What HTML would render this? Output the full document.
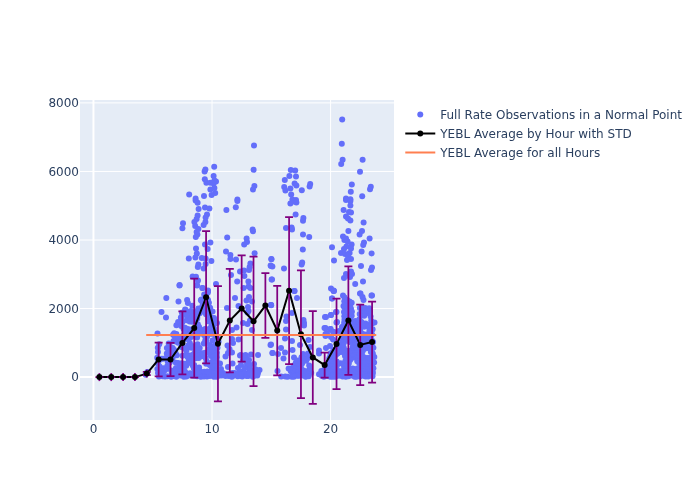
<!DOCTYPE html>
<html><head><meta charset="utf-8"><title>YEBL</title>
<style>
html,body{margin:0;padding:0;background:#fff;}
body{width:700px;height:500px;overflow:hidden;}
svg{display:block;}
text{font-family:"DejaVu Sans","Liberation Sans",sans-serif;font-size:12px;fill:#2a3f5f;}
</style></head><body>
<svg width="700" height="500" viewBox="0 0 700 500">
<rect x="0" y="0" width="700" height="500" fill="#fff"/>
<rect x="80" y="100" width="314" height="320" fill="#e5ecf6"/>
<clipPath id="c"><rect x="80" y="100" width="314" height="320"/></clipPath>

<g stroke="#fff" stroke-width="1" shape-rendering="auto">
<line x1="212.02" x2="212.02" y1="100" y2="420"/>
<line x1="330.59" x2="330.59" y1="100" y2="420"/>
<line x1="80" x2="394" y1="308.55" y2="308.55"/>
<line x1="80" x2="394" y1="240.00" y2="240.00"/>
<line x1="80" x2="394" y1="171.45" y2="171.45"/>
<line x1="80" x2="394" y1="102.90" y2="102.90"/>
</g>
<g stroke="#fff" stroke-width="2">
<line x1="93.45" x2="93.45" y1="100" y2="420"/>
<line x1="80" x2="394" y1="377.10" y2="377.10"/>
</g>
<g clip-path="url(#c)">
<g fill="#636efa">
<circle cx="254.0" cy="145.4" r="3"/>
<circle cx="253.6" cy="169.8" r="3"/>
<circle cx="254.4" cy="186.0" r="3"/>
<circle cx="253.0" cy="189.6" r="3"/>
<circle cx="214.2" cy="166.8" r="3"/>
<circle cx="205.4" cy="169.4" r="3"/>
<circle cx="204.6" cy="171.6" r="3"/>
<circle cx="213.6" cy="176.0" r="3"/>
<circle cx="204.8" cy="179.2" r="3"/>
<circle cx="214.4" cy="180.4" r="3"/>
<circle cx="216.0" cy="181.6" r="3"/>
<circle cx="206.4" cy="182.8" r="3"/>
<circle cx="210.4" cy="182.8" r="3"/>
<circle cx="213.6" cy="183.6" r="3"/>
<circle cx="214.4" cy="188.0" r="3"/>
<circle cx="210.4" cy="189.4" r="3"/>
<circle cx="215.2" cy="193.0" r="3"/>
<circle cx="211.6" cy="195.0" r="3"/>
<circle cx="204.0" cy="196.0" r="3"/>
<circle cx="189.2" cy="194.4" r="3"/>
<circle cx="195.6" cy="198.4" r="3"/>
<circle cx="237.4" cy="199.4" r="3"/>
<circle cx="342.2" cy="119.6" r="3"/>
<circle cx="341.8" cy="143.8" r="3"/>
<circle cx="342.6" cy="159.8" r="3"/>
<circle cx="341.2" cy="164.0" r="3"/>
<circle cx="362.6" cy="159.8" r="3"/>
<circle cx="360.0" cy="171.8" r="3"/>
<circle cx="351.8" cy="184.6" r="3"/>
<circle cx="370.8" cy="186.8" r="3"/>
<circle cx="370.0" cy="189.2" r="3"/>
<circle cx="350.8" cy="191.8" r="3"/>
<circle cx="362.2" cy="196.2" r="3"/>
<circle cx="346.0" cy="198.4" r="3"/>
<circle cx="350.4" cy="199.2" r="3"/>
<circle cx="290.8" cy="170.0" r="3"/>
<circle cx="295.2" cy="170.4" r="3"/>
<circle cx="289.4" cy="176.0" r="3"/>
<circle cx="296.0" cy="176.4" r="3"/>
<circle cx="284.8" cy="180.0" r="3"/>
<circle cx="294.6" cy="183.4" r="3"/>
<circle cx="296.4" cy="185.6" r="3"/>
<circle cx="310.2" cy="184.0" r="3"/>
<circle cx="309.6" cy="186.6" r="3"/>
<circle cx="284.2" cy="187.0" r="3"/>
<circle cx="290.4" cy="188.6" r="3"/>
<circle cx="285.4" cy="190.6" r="3"/>
<circle cx="301.8" cy="190.2" r="3"/>
<circle cx="291.2" cy="194.4" r="3"/>
<circle cx="292.4" cy="199.4" r="3"/>
<circle cx="296.0" cy="200.0" r="3"/>
<circle cx="195.6" cy="200.6" r="3"/>
<circle cx="197.6" cy="202.8" r="3"/>
<circle cx="237.4" cy="201.0" r="3"/>
<circle cx="235.8" cy="207.2" r="3"/>
<circle cx="226.4" cy="210.0" r="3"/>
<circle cx="198.6" cy="209.0" r="3"/>
<circle cx="205.0" cy="207.4" r="3"/>
<circle cx="209.4" cy="208.4" r="3"/>
<circle cx="207.0" cy="214.4" r="3"/>
<circle cx="197.6" cy="215.6" r="3"/>
<circle cx="205.6" cy="217.6" r="3"/>
<circle cx="196.6" cy="219.0" r="3"/>
<circle cx="194.4" cy="222.0" r="3"/>
<circle cx="205.4" cy="222.0" r="3"/>
<circle cx="183.0" cy="223.2" r="3"/>
<circle cx="203.6" cy="225.0" r="3"/>
<circle cx="195.2" cy="226.0" r="3"/>
<circle cx="182.4" cy="228.2" r="3"/>
<circle cx="198.4" cy="229.0" r="3"/>
<circle cx="252.6" cy="229.6" r="3"/>
<circle cx="253.0" cy="231.2" r="3"/>
<circle cx="196.6" cy="232.0" r="3"/>
<circle cx="197.4" cy="234.4" r="3"/>
<circle cx="195.8" cy="237.0" r="3"/>
<circle cx="227.2" cy="237.4" r="3"/>
<circle cx="246.6" cy="238.4" r="3"/>
<circle cx="247.0" cy="242.0" r="3"/>
<circle cx="244.2" cy="244.4" r="3"/>
<circle cx="210.4" cy="242.4" r="3"/>
<circle cx="205.0" cy="244.4" r="3"/>
<circle cx="196.0" cy="248.6" r="3"/>
<circle cx="207.6" cy="249.0" r="3"/>
<circle cx="226.0" cy="251.4" r="3"/>
<circle cx="254.6" cy="253.2" r="3"/>
<circle cx="196.8" cy="253.6" r="3"/>
<circle cx="230.4" cy="255.0" r="3"/>
<circle cx="195.4" cy="257.4" r="3"/>
<circle cx="188.8" cy="258.4" r="3"/>
<circle cx="201.8" cy="258.0" r="3"/>
<circle cx="205.6" cy="258.4" r="3"/>
<circle cx="230.4" cy="259.0" r="3"/>
<circle cx="236.0" cy="259.6" r="3"/>
<circle cx="211.4" cy="261.0" r="3"/>
<circle cx="271.4" cy="259.2" r="3"/>
<circle cx="198.4" cy="264.6" r="3"/>
<circle cx="205.6" cy="264.0" r="3"/>
<circle cx="250.4" cy="263.6" r="3"/>
<circle cx="197.8" cy="267.0" r="3"/>
<circle cx="203.6" cy="268.4" r="3"/>
<circle cx="271.0" cy="266.0" r="3"/>
<circle cx="249.6" cy="267.0" r="3"/>
<circle cx="249.0" cy="270.0" r="3"/>
<circle cx="244.0" cy="270.4" r="3"/>
<circle cx="240.0" cy="271.6" r="3"/>
<circle cx="231.0" cy="275.0" r="3"/>
<circle cx="244.4" cy="276.0" r="3"/>
<circle cx="192.6" cy="276.4" r="3"/>
<circle cx="196.0" cy="276.8" r="3"/>
<circle cx="272.0" cy="279.6" r="3"/>
<circle cx="198.0" cy="280.6" r="3"/>
<circle cx="237.2" cy="281.4" r="3"/>
<circle cx="248.4" cy="281.6" r="3"/>
<circle cx="179.6" cy="285.0" r="3"/>
<circle cx="197.0" cy="285.0" r="3"/>
<circle cx="216.0" cy="284.0" r="3"/>
<circle cx="248.6" cy="286.4" r="3"/>
<circle cx="243.6" cy="288.0" r="3"/>
<circle cx="250.4" cy="288.0" r="3"/>
<circle cx="202.4" cy="288.0" r="3"/>
<circle cx="207.6" cy="291.0" r="3"/>
<circle cx="290.4" cy="203.6" r="3"/>
<circle cx="293.6" cy="201.6" r="3"/>
<circle cx="296.4" cy="202.4" r="3"/>
<circle cx="295.6" cy="214.4" r="3"/>
<circle cx="303.4" cy="218.0" r="3"/>
<circle cx="303.0" cy="220.8" r="3"/>
<circle cx="286.0" cy="228.0" r="3"/>
<circle cx="291.6" cy="227.6" r="3"/>
<circle cx="292.0" cy="229.6" r="3"/>
<circle cx="303.0" cy="234.4" r="3"/>
<circle cx="309.2" cy="237.0" r="3"/>
<circle cx="302.8" cy="249.4" r="3"/>
<circle cx="302.2" cy="262.4" r="3"/>
<circle cx="301.6" cy="264.4" r="3"/>
<circle cx="271.4" cy="259.0" r="3"/>
<circle cx="270.6" cy="265.6" r="3"/>
<circle cx="272.4" cy="266.4" r="3"/>
<circle cx="284.0" cy="268.6" r="3"/>
<circle cx="271.6" cy="279.6" r="3"/>
<circle cx="294.4" cy="291.0" r="3"/>
<circle cx="346.0" cy="200.0" r="3"/>
<circle cx="350.4" cy="201.0" r="3"/>
<circle cx="350.4" cy="205.6" r="3"/>
<circle cx="343.6" cy="210.0" r="3"/>
<circle cx="349.0" cy="212.0" r="3"/>
<circle cx="351.0" cy="212.4" r="3"/>
<circle cx="346.0" cy="216.6" r="3"/>
<circle cx="348.0" cy="218.4" r="3"/>
<circle cx="350.4" cy="220.4" r="3"/>
<circle cx="363.6" cy="222.6" r="3"/>
<circle cx="348.4" cy="231.0" r="3"/>
<circle cx="362.0" cy="231.0" r="3"/>
<circle cx="359.6" cy="234.4" r="3"/>
<circle cx="343.0" cy="236.4" r="3"/>
<circle cx="346.0" cy="238.4" r="3"/>
<circle cx="369.6" cy="238.6" r="3"/>
<circle cx="344.4" cy="240.0" r="3"/>
<circle cx="347.6" cy="241.6" r="3"/>
<circle cx="364.0" cy="242.6" r="3"/>
<circle cx="351.6" cy="244.4" r="3"/>
<circle cx="363.2" cy="245.0" r="3"/>
<circle cx="332.0" cy="247.2" r="3"/>
<circle cx="346.4" cy="246.4" r="3"/>
<circle cx="344.0" cy="249.0" r="3"/>
<circle cx="351.0" cy="248.6" r="3"/>
<circle cx="361.6" cy="251.6" r="3"/>
<circle cx="341.0" cy="253.0" r="3"/>
<circle cx="345.0" cy="254.0" r="3"/>
<circle cx="349.6" cy="253.0" r="3"/>
<circle cx="371.6" cy="253.4" r="3"/>
<circle cx="348.0" cy="256.0" r="3"/>
<circle cx="351.0" cy="259.0" r="3"/>
<circle cx="347.0" cy="260.0" r="3"/>
<circle cx="334.0" cy="260.4" r="3"/>
<circle cx="361.0" cy="266.0" r="3"/>
<circle cx="372.0" cy="267.6" r="3"/>
<circle cx="371.0" cy="270.0" r="3"/>
<circle cx="351.0" cy="271.6" r="3"/>
<circle cx="346.0" cy="274.0" r="3"/>
<circle cx="352.0" cy="274.0" r="3"/>
<circle cx="350.0" cy="277.0" r="3"/>
<circle cx="344.0" cy="278.0" r="3"/>
<circle cx="363.0" cy="281.4" r="3"/>
<circle cx="355.2" cy="284.0" r="3"/>
<circle cx="331.0" cy="288.4" r="3"/>
<circle cx="333.6" cy="290.4" r="3"/>
<circle cx="360.0" cy="293.6" r="3"/>
<circle cx="372.0" cy="295.6" r="3"/>
<circle cx="343.0" cy="295.6" r="3"/>
<circle cx="235.0" cy="298.0" r="3"/>
<circle cx="246.5" cy="300.5" r="3"/>
<circle cx="252.0" cy="301.5" r="3"/>
<circle cx="249.0" cy="297.0" r="3"/>
<circle cx="227.0" cy="308.0" r="3"/>
<circle cx="238.5" cy="306.0" r="3"/>
<circle cx="248.0" cy="307.0" r="3"/>
<circle cx="248.5" cy="311.0" r="3"/>
<circle cx="247.5" cy="312.5" r="3"/>
<circle cx="212.5" cy="311.5" r="3"/>
<circle cx="214.0" cy="318.0" r="3"/>
<circle cx="214.5" cy="320.5" r="3"/>
<circle cx="217.0" cy="323.0" r="3"/>
<circle cx="243.0" cy="323.0" r="3"/>
<circle cx="247.5" cy="324.0" r="3"/>
<circle cx="250.0" cy="320.5" r="3"/>
<circle cx="236.5" cy="327.5" r="3"/>
<circle cx="232.0" cy="330.0" r="3"/>
<circle cx="252.0" cy="330.0" r="3"/>
<circle cx="271.0" cy="305.0" r="3"/>
<circle cx="210.0" cy="329.0" r="3"/>
<circle cx="209.0" cy="331.0" r="3"/>
<circle cx="208.0" cy="300.0" r="3"/>
<circle cx="212.5" cy="340.5" r="3"/>
<circle cx="210.0" cy="345.0" r="3"/>
<circle cx="209.0" cy="349.0" r="3"/>
<circle cx="212.5" cy="352.0" r="3"/>
<circle cx="214.0" cy="348.0" r="3"/>
<circle cx="211.0" cy="356.0" r="3"/>
<circle cx="213.5" cy="360.0" r="3"/>
<circle cx="210.0" cy="365.0" r="3"/>
<circle cx="214.0" cy="365.0" r="3"/>
<circle cx="212.0" cy="369.0" r="3"/>
<circle cx="209.0" cy="372.0" r="3"/>
<circle cx="213.0" cy="374.0" r="3"/>
<circle cx="216.0" cy="372.0" r="3"/>
<circle cx="220.0" cy="363.5" r="3"/>
<circle cx="221.0" cy="369.0" r="3"/>
<circle cx="228.0" cy="367.0" r="3"/>
<circle cx="232.5" cy="363.5" r="3"/>
<circle cx="225.5" cy="356.5" r="3"/>
<circle cx="228.0" cy="353.0" r="3"/>
<circle cx="232.0" cy="352.5" r="3"/>
<circle cx="227.5" cy="345.5" r="3"/>
<circle cx="233.0" cy="343.0" r="3"/>
<circle cx="232.0" cy="339.0" r="3"/>
<circle cx="229.5" cy="349.0" r="3"/>
<circle cx="223.0" cy="373.0" r="3"/>
<circle cx="219.0" cy="375.0" r="3"/>
<circle cx="230.0" cy="375.0" r="3"/>
<circle cx="234.5" cy="373.0" r="3"/>
<circle cx="238.5" cy="339.5" r="3"/>
<circle cx="240.0" cy="355.5" r="3"/>
<circle cx="245.5" cy="355.0" r="3"/>
<circle cx="251.0" cy="354.5" r="3"/>
<circle cx="258.0" cy="355.0" r="3"/>
<circle cx="249.0" cy="360.0" r="3"/>
<circle cx="238.0" cy="368.0" r="3"/>
<circle cx="239.5" cy="372.0" r="3"/>
<circle cx="243.0" cy="374.0" r="3"/>
<circle cx="247.0" cy="364.0" r="3"/>
<circle cx="250.0" cy="365.0" r="3"/>
<circle cx="254.0" cy="364.0" r="3"/>
<circle cx="249.0" cy="369.0" r="3"/>
<circle cx="255.0" cy="369.0" r="3"/>
<circle cx="259.5" cy="370.0" r="3"/>
<circle cx="252.0" cy="373.0" r="3"/>
<circle cx="258.0" cy="373.0" r="3"/>
<circle cx="270.5" cy="345.0" r="3"/>
<circle cx="272.5" cy="353.0" r="3"/>
<circle cx="277.5" cy="371.0" r="3"/>
<circle cx="271.0" cy="344.5" r="3"/>
<circle cx="272.5" cy="353.0" r="3"/>
<circle cx="278.0" cy="354.0" r="3"/>
<circle cx="281.0" cy="348.0" r="3"/>
<circle cx="285.0" cy="338.5" r="3"/>
<circle cx="292.0" cy="341.0" r="3"/>
<circle cx="285.0" cy="352.5" r="3"/>
<circle cx="292.5" cy="350.0" r="3"/>
<circle cx="283.5" cy="358.5" r="3"/>
<circle cx="294.0" cy="357.5" r="3"/>
<circle cx="300.0" cy="345.0" r="3"/>
<circle cx="308.5" cy="340.0" r="3"/>
<circle cx="310.0" cy="347.0" r="3"/>
<circle cx="303.0" cy="354.0" r="3"/>
<circle cx="308.0" cy="353.5" r="3"/>
<circle cx="319.0" cy="350.5" r="3"/>
<circle cx="319.0" cy="353.5" r="3"/>
<circle cx="325.5" cy="336.0" r="3"/>
<circle cx="333.0" cy="339.5" r="3"/>
<circle cx="326.0" cy="348.0" r="3"/>
<circle cx="330.0" cy="346.0" r="3"/>
<circle cx="271.0" cy="305.0" r="3"/>
<circle cx="294.5" cy="291.0" r="3"/>
<circle cx="297.0" cy="298.0" r="3"/>
<circle cx="292.0" cy="313.0" r="3"/>
<circle cx="286.5" cy="316.5" r="3"/>
<circle cx="286.0" cy="321.0" r="3"/>
<circle cx="286.0" cy="329.5" r="3"/>
<circle cx="303.5" cy="320.0" r="3"/>
<circle cx="304.0" cy="323.0" r="3"/>
<circle cx="304.0" cy="325.5" r="3"/>
<circle cx="325.0" cy="317.0" r="3"/>
<circle cx="331.0" cy="315.0" r="3"/>
<circle cx="336.5" cy="312.0" r="3"/>
<circle cx="324.5" cy="328.0" r="3"/>
<circle cx="330.5" cy="329.0" r="3"/>
<circle cx="325.5" cy="334.0" r="3"/>
<circle cx="333.0" cy="332.0" r="3"/>
<circle cx="337.0" cy="322.0" r="3"/>
<circle cx="332.0" cy="298.5" r="3"/>
<circle cx="334.0" cy="291.0" r="3"/>
<circle cx="339.0" cy="331.0" r="3"/>
<circle cx="326.0" cy="317.0" r="3"/>
<circle cx="331.0" cy="315.0" r="3"/>
<circle cx="336.0" cy="312.0" r="3"/>
<circle cx="336.5" cy="322.5" r="3"/>
<circle cx="332.0" cy="298.5" r="3"/>
<circle cx="333.5" cy="291.0" r="3"/>
<circle cx="325.5" cy="328.0" r="3"/>
<circle cx="330.5" cy="329.0" r="3"/>
<circle cx="334.0" cy="332.0" r="3"/>
<circle cx="327.0" cy="333.0" r="3"/>
<circle cx="331.0" cy="337.0" r="3"/>
<circle cx="342.0" cy="327.0" r="3"/>
<circle cx="360.5" cy="293.5" r="3"/>
<circle cx="362.5" cy="297.0" r="3"/>
<circle cx="363.5" cy="300.0" r="3"/>
<circle cx="371.5" cy="295.5" r="3"/>
<circle cx="374.5" cy="322.5" r="3"/>
<circle cx="166.3" cy="298.0" r="3"/>
<circle cx="178.5" cy="301.5" r="3"/>
<circle cx="161.5" cy="312.0" r="3"/>
<circle cx="166.0" cy="317.5" r="3"/>
<circle cx="179.5" cy="285.5" r="3"/>
<circle cx="157.5" cy="333.5" r="3"/>
<circle cx="197.0" cy="285.5" r="3"/>
<circle cx="202.5" cy="288.0" r="3"/>
<circle cx="208.0" cy="290.5" r="3"/>
<circle cx="205.5" cy="295.0" r="3"/>
<circle cx="271.2" cy="305.2" r="3"/>
<circle cx="241.0" cy="355.0" r="3"/>
<circle cx="243.0" cy="360.0" r="3"/>
<circle cx="246.0" cy="357.0" r="3"/>
<circle cx="241.0" cy="365.0" r="3"/>
<circle cx="245.0" cy="368.0" r="3"/>
<circle cx="248.0" cy="363.0" r="3"/>
<circle cx="250.0" cy="369.0" r="3"/>
<circle cx="243.0" cy="371.0" r="3"/>
<circle cx="253.0" cy="371.0" r="3"/>
<circle cx="256.0" cy="370.0" r="3"/>
<circle cx="158.9" cy="376.4" r="3"/>
<circle cx="162.8" cy="376.2" r="3"/>
<circle cx="165.0" cy="376.5" r="3"/>
<circle cx="167.4" cy="376.3" r="3"/>
<circle cx="171.2" cy="376.8" r="3"/>
<circle cx="173.3" cy="375.9" r="3"/>
<circle cx="176.3" cy="376.8" r="3"/>
<circle cx="180.3" cy="375.5" r="3"/>
<circle cx="183.9" cy="376.8" r="3"/>
<circle cx="186.3" cy="376.5" r="3"/>
<circle cx="188.4" cy="375.4" r="3"/>
<circle cx="192.1" cy="375.5" r="3"/>
<circle cx="194.4" cy="375.8" r="3"/>
<circle cx="197.2" cy="376.2" r="3"/>
<circle cx="200.9" cy="376.8" r="3"/>
<circle cx="204.0" cy="376.6" r="3"/>
<circle cx="207.0" cy="376.6" r="3"/>
<circle cx="209.9" cy="375.9" r="3"/>
<circle cx="213.9" cy="376.8" r="3"/>
<circle cx="216.6" cy="376.7" r="3"/>
<circle cx="218.7" cy="375.8" r="3"/>
<circle cx="221.6" cy="375.5" r="3"/>
<circle cx="225.5" cy="376.1" r="3"/>
<circle cx="228.6" cy="376.1" r="3"/>
<circle cx="231.8" cy="376.8" r="3"/>
<circle cx="233.1" cy="375.8" r="3"/>
<circle cx="237.7" cy="376.2" r="3"/>
<circle cx="240.9" cy="376.1" r="3"/>
<circle cx="242.2" cy="376.5" r="3"/>
<circle cx="246.5" cy="375.9" r="3"/>
<circle cx="248.3" cy="376.0" r="3"/>
<circle cx="252.8" cy="376.8" r="3"/>
<circle cx="254.3" cy="375.8" r="3"/>
<circle cx="257.3" cy="375.5" r="3"/>
<circle cx="158.0" cy="373.1" r="3"/>
<circle cx="160.6" cy="373.6" r="3"/>
<circle cx="162.9" cy="374.1" r="3"/>
<circle cx="172.0" cy="373.3" r="3"/>
<circle cx="176.3" cy="374.2" r="3"/>
<circle cx="178.1" cy="374.4" r="3"/>
<circle cx="181.0" cy="373.5" r="3"/>
<circle cx="185.1" cy="373.9" r="3"/>
<circle cx="186.8" cy="374.6" r="3"/>
<circle cx="190.0" cy="373.3" r="3"/>
<circle cx="194.0" cy="373.4" r="3"/>
<circle cx="196.1" cy="372.9" r="3"/>
<circle cx="198.8" cy="373.8" r="3"/>
<circle cx="202.0" cy="373.9" r="3"/>
<circle cx="205.3" cy="373.6" r="3"/>
<circle cx="209.3" cy="373.7" r="3"/>
<circle cx="211.6" cy="374.3" r="3"/>
<circle cx="213.9" cy="373.1" r="3"/>
<circle cx="218.2" cy="374.3" r="3"/>
<circle cx="220.0" cy="373.1" r="3"/>
<circle cx="223.9" cy="374.5" r="3"/>
<circle cx="226.0" cy="374.5" r="3"/>
<circle cx="230.2" cy="373.9" r="3"/>
<circle cx="232.4" cy="373.0" r="3"/>
<circle cx="234.7" cy="374.5" r="3"/>
<circle cx="238.0" cy="374.1" r="3"/>
<circle cx="241.1" cy="374.3" r="3"/>
<circle cx="244.7" cy="373.3" r="3"/>
<circle cx="246.9" cy="374.1" r="3"/>
<circle cx="249.7" cy="373.2" r="3"/>
<circle cx="253.6" cy="374.3" r="3"/>
<circle cx="256.7" cy="373.3" r="3"/>
<circle cx="159.8" cy="370.5" r="3"/>
<circle cx="161.1" cy="370.7" r="3"/>
<circle cx="164.9" cy="370.3" r="3"/>
<circle cx="171.1" cy="370.4" r="3"/>
<circle cx="173.8" cy="371.8" r="3"/>
<circle cx="177.9" cy="371.4" r="3"/>
<circle cx="180.3" cy="371.2" r="3"/>
<circle cx="182.4" cy="370.2" r="3"/>
<circle cx="185.1" cy="371.8" r="3"/>
<circle cx="195.0" cy="371.5" r="3"/>
<circle cx="197.7" cy="372.0" r="3"/>
<circle cx="200.2" cy="371.2" r="3"/>
<circle cx="204.4" cy="371.8" r="3"/>
<circle cx="207.4" cy="371.4" r="3"/>
<circle cx="216.7" cy="371.7" r="3"/>
<circle cx="157.4" cy="369.0" r="3"/>
<circle cx="161.2" cy="368.6" r="3"/>
<circle cx="163.7" cy="368.3" r="3"/>
<circle cx="166.6" cy="368.7" r="3"/>
<circle cx="175.9" cy="368.3" r="3"/>
<circle cx="178.9" cy="368.6" r="3"/>
<circle cx="181.4" cy="369.1" r="3"/>
<circle cx="183.8" cy="368.9" r="3"/>
<circle cx="193.9" cy="368.5" r="3"/>
<circle cx="196.7" cy="369.2" r="3"/>
<circle cx="199.1" cy="367.6" r="3"/>
<circle cx="217.0" cy="368.3" r="3"/>
<circle cx="159.6" cy="366.6" r="3"/>
<circle cx="167.3" cy="365.9" r="3"/>
<circle cx="179.9" cy="365.5" r="3"/>
<circle cx="182.5" cy="365.7" r="3"/>
<circle cx="186.2" cy="365.8" r="3"/>
<circle cx="192.9" cy="365.8" r="3"/>
<circle cx="194.2" cy="365.0" r="3"/>
<circle cx="209.9" cy="365.0" r="3"/>
<circle cx="213.6" cy="365.4" r="3"/>
<circle cx="215.4" cy="365.0" r="3"/>
<circle cx="157.7" cy="363.2" r="3"/>
<circle cx="169.5" cy="362.7" r="3"/>
<circle cx="175.9" cy="362.7" r="3"/>
<circle cx="178.1" cy="363.0" r="3"/>
<circle cx="181.9" cy="363.3" r="3"/>
<circle cx="184.7" cy="363.7" r="3"/>
<circle cx="187.3" cy="363.8" r="3"/>
<circle cx="191.2" cy="362.5" r="3"/>
<circle cx="206.2" cy="363.8" r="3"/>
<circle cx="209.3" cy="363.2" r="3"/>
<circle cx="211.8" cy="362.7" r="3"/>
<circle cx="214.9" cy="363.8" r="3"/>
<circle cx="217.8" cy="363.6" r="3"/>
<circle cx="158.5" cy="361.4" r="3"/>
<circle cx="167.7" cy="361.4" r="3"/>
<circle cx="171.6" cy="360.4" r="3"/>
<circle cx="188.7" cy="361.2" r="3"/>
<circle cx="191.4" cy="360.0" r="3"/>
<circle cx="206.5" cy="360.7" r="3"/>
<circle cx="213.2" cy="360.7" r="3"/>
<circle cx="216.6" cy="360.7" r="3"/>
<circle cx="157.2" cy="357.8" r="3"/>
<circle cx="161.1" cy="358.8" r="3"/>
<circle cx="163.0" cy="358.7" r="3"/>
<circle cx="167.3" cy="358.1" r="3"/>
<circle cx="169.6" cy="357.5" r="3"/>
<circle cx="172.6" cy="358.0" r="3"/>
<circle cx="187.8" cy="357.2" r="3"/>
<circle cx="190.6" cy="357.9" r="3"/>
<circle cx="194.3" cy="358.8" r="3"/>
<circle cx="196.1" cy="358.0" r="3"/>
<circle cx="198.8" cy="357.9" r="3"/>
<circle cx="205.5" cy="357.7" r="3"/>
<circle cx="215.0" cy="357.2" r="3"/>
<circle cx="216.9" cy="357.5" r="3"/>
<circle cx="167.3" cy="355.4" r="3"/>
<circle cx="170.6" cy="354.9" r="3"/>
<circle cx="174.1" cy="355.3" r="3"/>
<circle cx="176.8" cy="355.3" r="3"/>
<circle cx="182.5" cy="355.7" r="3"/>
<circle cx="186.2" cy="355.5" r="3"/>
<circle cx="189.6" cy="355.6" r="3"/>
<circle cx="192.6" cy="354.9" r="3"/>
<circle cx="195.4" cy="356.0" r="3"/>
<circle cx="198.7" cy="355.1" r="3"/>
<circle cx="200.7" cy="356.2" r="3"/>
<circle cx="203.5" cy="356.3" r="3"/>
<circle cx="212.6" cy="354.7" r="3"/>
<circle cx="216.6" cy="355.3" r="3"/>
<circle cx="158.0" cy="352.1" r="3"/>
<circle cx="166.8" cy="353.6" r="3"/>
<circle cx="170.3" cy="352.1" r="3"/>
<circle cx="172.5" cy="353.3" r="3"/>
<circle cx="175.5" cy="353.1" r="3"/>
<circle cx="194.1" cy="353.7" r="3"/>
<circle cx="197.3" cy="352.1" r="3"/>
<circle cx="198.7" cy="353.6" r="3"/>
<circle cx="202.4" cy="353.3" r="3"/>
<circle cx="205.2" cy="352.8" r="3"/>
<circle cx="208.5" cy="352.7" r="3"/>
<circle cx="211.7" cy="351.9" r="3"/>
<circle cx="214.9" cy="353.4" r="3"/>
<circle cx="216.9" cy="352.7" r="3"/>
<circle cx="168.7" cy="350.7" r="3"/>
<circle cx="171.4" cy="350.8" r="3"/>
<circle cx="174.2" cy="350.0" r="3"/>
<circle cx="186.4" cy="350.7" r="3"/>
<circle cx="195.4" cy="350.7" r="3"/>
<circle cx="198.5" cy="350.0" r="3"/>
<circle cx="210.2" cy="350.4" r="3"/>
<circle cx="212.5" cy="351.0" r="3"/>
<circle cx="216.3" cy="349.9" r="3"/>
<circle cx="157.8" cy="347.7" r="3"/>
<circle cx="166.9" cy="348.1" r="3"/>
<circle cx="170.4" cy="346.7" r="3"/>
<circle cx="172.7" cy="348.0" r="3"/>
<circle cx="181.3" cy="346.9" r="3"/>
<circle cx="184.1" cy="348.3" r="3"/>
<circle cx="187.6" cy="347.6" r="3"/>
<circle cx="191.3" cy="347.7" r="3"/>
<circle cx="194.4" cy="347.8" r="3"/>
<circle cx="197.1" cy="346.8" r="3"/>
<circle cx="199.7" cy="348.1" r="3"/>
<circle cx="211.7" cy="346.8" r="3"/>
<circle cx="215.3" cy="347.4" r="3"/>
<circle cx="217.5" cy="347.8" r="3"/>
<circle cx="159.2" cy="344.3" r="3"/>
<circle cx="168.7" cy="343.6" r="3"/>
<circle cx="188.3" cy="345.2" r="3"/>
<circle cx="193.5" cy="346.3" r="3"/>
<circle cx="197.6" cy="344.3" r="3"/>
<circle cx="215.6" cy="344.9" r="3"/>
<circle cx="173.5" cy="341.1" r="3"/>
<circle cx="176.3" cy="341.5" r="3"/>
<circle cx="178.1" cy="342.8" r="3"/>
<circle cx="182.2" cy="343.6" r="3"/>
<circle cx="189.9" cy="343.2" r="3"/>
<circle cx="203.8" cy="343.6" r="3"/>
<circle cx="205.0" cy="342.1" r="3"/>
<circle cx="218.6" cy="341.7" r="3"/>
<circle cx="174.2" cy="341.2" r="3"/>
<circle cx="181.8" cy="340.2" r="3"/>
<circle cx="185.2" cy="338.9" r="3"/>
<circle cx="188.7" cy="339.3" r="3"/>
<circle cx="205.5" cy="339.4" r="3"/>
<circle cx="206.4" cy="341.2" r="3"/>
<circle cx="217.2" cy="338.4" r="3"/>
<circle cx="174.7" cy="336.2" r="3"/>
<circle cx="177.9" cy="337.3" r="3"/>
<circle cx="184.6" cy="338.5" r="3"/>
<circle cx="190.6" cy="337.2" r="3"/>
<circle cx="192.7" cy="335.7" r="3"/>
<circle cx="197.1" cy="337.5" r="3"/>
<circle cx="207.2" cy="336.5" r="3"/>
<circle cx="215.4" cy="336.9" r="3"/>
<circle cx="173.1" cy="334.7" r="3"/>
<circle cx="176.4" cy="334.0" r="3"/>
<circle cx="182.9" cy="335.9" r="3"/>
<circle cx="198.1" cy="333.9" r="3"/>
<circle cx="200.3" cy="333.6" r="3"/>
<circle cx="204.2" cy="335.2" r="3"/>
<circle cx="210.6" cy="333.6" r="3"/>
<circle cx="211.8" cy="333.7" r="3"/>
<circle cx="174.2" cy="333.2" r="3"/>
<circle cx="185.0" cy="332.3" r="3"/>
<circle cx="188.0" cy="330.7" r="3"/>
<circle cx="191.5" cy="332.3" r="3"/>
<circle cx="193.6" cy="331.5" r="3"/>
<circle cx="198.0" cy="332.0" r="3"/>
<circle cx="206.1" cy="331.4" r="3"/>
<circle cx="207.4" cy="333.4" r="3"/>
<circle cx="211.7" cy="332.1" r="3"/>
<circle cx="215.5" cy="332.2" r="3"/>
<circle cx="183.5" cy="328.7" r="3"/>
<circle cx="186.3" cy="330.2" r="3"/>
<circle cx="187.9" cy="329.0" r="3"/>
<circle cx="191.3" cy="329.5" r="3"/>
<circle cx="198.3" cy="329.2" r="3"/>
<circle cx="201.8" cy="330.1" r="3"/>
<circle cx="205.1" cy="329.0" r="3"/>
<circle cx="207.1" cy="329.4" r="3"/>
<circle cx="208.7" cy="330.0" r="3"/>
<circle cx="213.8" cy="328.7" r="3"/>
<circle cx="181.2" cy="325.9" r="3"/>
<circle cx="185.0" cy="327.8" r="3"/>
<circle cx="199.1" cy="327.0" r="3"/>
<circle cx="210.5" cy="327.8" r="3"/>
<circle cx="213.6" cy="327.9" r="3"/>
<circle cx="176.4" cy="325.3" r="3"/>
<circle cx="181.7" cy="323.3" r="3"/>
<circle cx="197.8" cy="324.2" r="3"/>
<circle cx="211.5" cy="322.7" r="3"/>
<circle cx="214.3" cy="324.1" r="3"/>
<circle cx="178.1" cy="322.0" r="3"/>
<circle cx="182.5" cy="322.0" r="3"/>
<circle cx="189.7" cy="321.5" r="3"/>
<circle cx="192.1" cy="321.8" r="3"/>
<circle cx="195.5" cy="320.4" r="3"/>
<circle cx="208.9" cy="321.6" r="3"/>
<circle cx="180.9" cy="317.6" r="3"/>
<circle cx="186.8" cy="320.3" r="3"/>
<circle cx="187.6" cy="318.1" r="3"/>
<circle cx="191.4" cy="318.7" r="3"/>
<circle cx="195.8" cy="319.6" r="3"/>
<circle cx="197.2" cy="318.8" r="3"/>
<circle cx="208.2" cy="318.8" r="3"/>
<circle cx="210.8" cy="318.0" r="3"/>
<circle cx="212.0" cy="318.0" r="3"/>
<circle cx="181.3" cy="317.7" r="3"/>
<circle cx="187.1" cy="315.6" r="3"/>
<circle cx="192.8" cy="315.9" r="3"/>
<circle cx="197.3" cy="316.9" r="3"/>
<circle cx="210.4" cy="316.9" r="3"/>
<circle cx="181.9" cy="312.8" r="3"/>
<circle cx="185.7" cy="314.8" r="3"/>
<circle cx="188.1" cy="312.3" r="3"/>
<circle cx="192.9" cy="315.1" r="3"/>
<circle cx="194.1" cy="314.2" r="3"/>
<circle cx="197.2" cy="314.1" r="3"/>
<circle cx="199.7" cy="313.3" r="3"/>
<circle cx="206.0" cy="314.2" r="3"/>
<circle cx="209.8" cy="312.6" r="3"/>
<circle cx="185.1" cy="309.6" r="3"/>
<circle cx="190.8" cy="311.0" r="3"/>
<circle cx="195.8" cy="311.6" r="3"/>
<circle cx="200.9" cy="310.6" r="3"/>
<circle cx="202.9" cy="311.4" r="3"/>
<circle cx="209.7" cy="309.7" r="3"/>
<circle cx="185.6" cy="309.9" r="3"/>
<circle cx="198.4" cy="308.6" r="3"/>
<circle cx="200.5" cy="309.6" r="3"/>
<circle cx="204.6" cy="309.8" r="3"/>
<circle cx="207.0" cy="308.6" r="3"/>
<circle cx="210.1" cy="307.7" r="3"/>
<circle cx="192.3" cy="305.7" r="3"/>
<circle cx="202.2" cy="306.5" r="3"/>
<circle cx="205.0" cy="306.6" r="3"/>
<circle cx="208.3" cy="306.5" r="3"/>
<circle cx="187.9" cy="302.9" r="3"/>
<circle cx="202.4" cy="302.1" r="3"/>
<circle cx="203.7" cy="304.5" r="3"/>
<circle cx="205.9" cy="301.8" r="3"/>
<circle cx="208.9" cy="302.7" r="3"/>
<circle cx="187.1" cy="300.0" r="3"/>
<circle cx="200.9" cy="300.3" r="3"/>
<circle cx="201.4" cy="299.6" r="3"/>
<circle cx="207.1" cy="300.8" r="3"/>
<circle cx="206.3" cy="296.7" r="3"/>
<circle cx="204.2" cy="294.4" r="3"/>
<circle cx="207.9" cy="292.5" r="3"/>
<circle cx="281.2" cy="376.4" r="3"/>
<circle cx="285.3" cy="376.5" r="3"/>
<circle cx="287.6" cy="376.8" r="3"/>
<circle cx="291.7" cy="376.8" r="3"/>
<circle cx="293.9" cy="376.8" r="3"/>
<circle cx="297.4" cy="375.7" r="3"/>
<circle cx="299.1" cy="375.7" r="3"/>
<circle cx="302.3" cy="375.5" r="3"/>
<circle cx="305.7" cy="376.8" r="3"/>
<circle cx="308.7" cy="376.3" r="3"/>
<circle cx="293.0" cy="374.1" r="3"/>
<circle cx="295.3" cy="374.2" r="3"/>
<circle cx="299.1" cy="374.2" r="3"/>
<circle cx="302.4" cy="373.0" r="3"/>
<circle cx="305.3" cy="373.5" r="3"/>
<circle cx="307.9" cy="373.2" r="3"/>
<circle cx="311.2" cy="372.8" r="3"/>
<circle cx="290.8" cy="371.3" r="3"/>
<circle cx="293.7" cy="370.7" r="3"/>
<circle cx="297.7" cy="370.8" r="3"/>
<circle cx="299.3" cy="370.8" r="3"/>
<circle cx="303.4" cy="370.6" r="3"/>
<circle cx="306.4" cy="371.2" r="3"/>
<circle cx="309.3" cy="370.5" r="3"/>
<circle cx="288.6" cy="368.5" r="3"/>
<circle cx="292.3" cy="368.1" r="3"/>
<circle cx="295.6" cy="369.3" r="3"/>
<circle cx="298.0" cy="369.2" r="3"/>
<circle cx="301.2" cy="368.9" r="3"/>
<circle cx="310.0" cy="368.3" r="3"/>
<circle cx="294.4" cy="365.3" r="3"/>
<circle cx="296.6" cy="366.2" r="3"/>
<circle cx="300.8" cy="365.5" r="3"/>
<circle cx="309.2" cy="365.6" r="3"/>
<circle cx="295.8" cy="362.7" r="3"/>
<circle cx="298.7" cy="363.9" r="3"/>
<circle cx="302.1" cy="363.5" r="3"/>
<circle cx="297.3" cy="360.6" r="3"/>
<circle cx="300.3" cy="360.5" r="3"/>
<circle cx="302.8" cy="360.2" r="3"/>
<circle cx="306.2" cy="360.8" r="3"/>
<circle cx="301.5" cy="357.2" r="3"/>
<circle cx="304.7" cy="357.9" r="3"/>
<circle cx="307.7" cy="358.2" r="3"/>
<circle cx="321.8" cy="375.7" r="3"/>
<circle cx="323.9" cy="376.8" r="3"/>
<circle cx="327.4" cy="376.0" r="3"/>
<circle cx="330.4" cy="376.8" r="3"/>
<circle cx="332.8" cy="376.8" r="3"/>
<circle cx="335.3" cy="376.8" r="3"/>
<circle cx="339.0" cy="375.8" r="3"/>
<circle cx="342.6" cy="376.6" r="3"/>
<circle cx="345.8" cy="376.8" r="3"/>
<circle cx="348.5" cy="376.3" r="3"/>
<circle cx="351.9" cy="375.5" r="3"/>
<circle cx="354.7" cy="376.7" r="3"/>
<circle cx="356.6" cy="376.8" r="3"/>
<circle cx="359.9" cy="376.4" r="3"/>
<circle cx="363.7" cy="375.8" r="3"/>
<circle cx="365.6" cy="376.6" r="3"/>
<circle cx="368.2" cy="376.4" r="3"/>
<circle cx="372.5" cy="376.3" r="3"/>
<circle cx="319.0" cy="374.2" r="3"/>
<circle cx="323.1" cy="374.2" r="3"/>
<circle cx="325.6" cy="374.4" r="3"/>
<circle cx="329.0" cy="373.1" r="3"/>
<circle cx="331.3" cy="373.0" r="3"/>
<circle cx="333.7" cy="373.4" r="3"/>
<circle cx="338.2" cy="374.3" r="3"/>
<circle cx="339.8" cy="373.1" r="3"/>
<circle cx="343.3" cy="374.3" r="3"/>
<circle cx="346.7" cy="374.4" r="3"/>
<circle cx="348.7" cy="374.6" r="3"/>
<circle cx="352.0" cy="373.9" r="3"/>
<circle cx="356.2" cy="374.1" r="3"/>
<circle cx="358.0" cy="374.0" r="3"/>
<circle cx="361.4" cy="372.8" r="3"/>
<circle cx="364.2" cy="373.4" r="3"/>
<circle cx="367.7" cy="373.3" r="3"/>
<circle cx="370.7" cy="374.0" r="3"/>
<circle cx="372.9" cy="373.0" r="3"/>
<circle cx="321.3" cy="371.0" r="3"/>
<circle cx="323.3" cy="370.4" r="3"/>
<circle cx="327.8" cy="371.3" r="3"/>
<circle cx="329.7" cy="370.5" r="3"/>
<circle cx="333.9" cy="371.4" r="3"/>
<circle cx="336.4" cy="370.8" r="3"/>
<circle cx="338.7" cy="370.9" r="3"/>
<circle cx="341.4" cy="371.3" r="3"/>
<circle cx="344.9" cy="371.7" r="3"/>
<circle cx="347.8" cy="371.0" r="3"/>
<circle cx="351.0" cy="371.9" r="3"/>
<circle cx="353.7" cy="371.4" r="3"/>
<circle cx="356.5" cy="371.2" r="3"/>
<circle cx="359.6" cy="371.8" r="3"/>
<circle cx="362.6" cy="371.7" r="3"/>
<circle cx="366.3" cy="371.0" r="3"/>
<circle cx="369.8" cy="370.9" r="3"/>
<circle cx="372.4" cy="371.3" r="3"/>
<circle cx="325.4" cy="367.7" r="3"/>
<circle cx="328.4" cy="368.1" r="3"/>
<circle cx="331.4" cy="369.3" r="3"/>
<circle cx="334.1" cy="368.8" r="3"/>
<circle cx="344.2" cy="368.0" r="3"/>
<circle cx="346.4" cy="368.2" r="3"/>
<circle cx="350.1" cy="369.1" r="3"/>
<circle cx="352.7" cy="368.6" r="3"/>
<circle cx="354.8" cy="369.2" r="3"/>
<circle cx="357.8" cy="368.2" r="3"/>
<circle cx="361.3" cy="368.9" r="3"/>
<circle cx="364.8" cy="368.2" r="3"/>
<circle cx="368.2" cy="369.3" r="3"/>
<circle cx="369.6" cy="368.7" r="3"/>
<circle cx="373.4" cy="368.2" r="3"/>
<circle cx="326.9" cy="365.5" r="3"/>
<circle cx="330.3" cy="366.0" r="3"/>
<circle cx="333.8" cy="366.7" r="3"/>
<circle cx="336.9" cy="365.7" r="3"/>
<circle cx="344.2" cy="365.8" r="3"/>
<circle cx="347.8" cy="366.1" r="3"/>
<circle cx="360.4" cy="365.1" r="3"/>
<circle cx="362.4" cy="366.1" r="3"/>
<circle cx="366.2" cy="366.3" r="3"/>
<circle cx="368.6" cy="366.4" r="3"/>
<circle cx="372.4" cy="366.4" r="3"/>
<circle cx="327.8" cy="363.2" r="3"/>
<circle cx="330.6" cy="363.9" r="3"/>
<circle cx="335.3" cy="364.0" r="3"/>
<circle cx="336.6" cy="363.0" r="3"/>
<circle cx="340.6" cy="363.3" r="3"/>
<circle cx="342.8" cy="363.8" r="3"/>
<circle cx="346.1" cy="363.3" r="3"/>
<circle cx="348.8" cy="363.4" r="3"/>
<circle cx="359.0" cy="362.8" r="3"/>
<circle cx="361.3" cy="362.4" r="3"/>
<circle cx="364.0" cy="363.2" r="3"/>
<circle cx="367.6" cy="363.2" r="3"/>
<circle cx="371.1" cy="362.5" r="3"/>
<circle cx="374.1" cy="362.6" r="3"/>
<circle cx="330.8" cy="360.7" r="3"/>
<circle cx="332.8" cy="360.8" r="3"/>
<circle cx="336.7" cy="361.5" r="3"/>
<circle cx="345.4" cy="361.0" r="3"/>
<circle cx="347.4" cy="360.7" r="3"/>
<circle cx="350.2" cy="359.9" r="3"/>
<circle cx="357.3" cy="361.3" r="3"/>
<circle cx="359.2" cy="360.5" r="3"/>
<circle cx="362.2" cy="360.2" r="3"/>
<circle cx="365.3" cy="361.4" r="3"/>
<circle cx="368.7" cy="360.6" r="3"/>
<circle cx="372.3" cy="361.3" r="3"/>
<circle cx="329.3" cy="358.2" r="3"/>
<circle cx="331.5" cy="358.8" r="3"/>
<circle cx="334.3" cy="357.7" r="3"/>
<circle cx="346.4" cy="357.9" r="3"/>
<circle cx="348.7" cy="358.6" r="3"/>
<circle cx="351.7" cy="358.1" r="3"/>
<circle cx="355.6" cy="357.8" r="3"/>
<circle cx="358.0" cy="357.3" r="3"/>
<circle cx="361.3" cy="357.7" r="3"/>
<circle cx="364.5" cy="357.5" r="3"/>
<circle cx="367.9" cy="358.0" r="3"/>
<circle cx="369.6" cy="357.9" r="3"/>
<circle cx="374.3" cy="357.1" r="3"/>
<circle cx="330.2" cy="356.2" r="3"/>
<circle cx="332.8" cy="355.6" r="3"/>
<circle cx="335.8" cy="355.1" r="3"/>
<circle cx="345.0" cy="355.9" r="3"/>
<circle cx="347.2" cy="354.7" r="3"/>
<circle cx="350.6" cy="355.0" r="3"/>
<circle cx="354.5" cy="355.3" r="3"/>
<circle cx="357.6" cy="355.2" r="3"/>
<circle cx="359.6" cy="355.7" r="3"/>
<circle cx="362.3" cy="356.3" r="3"/>
<circle cx="372.5" cy="355.7" r="3"/>
<circle cx="330.7" cy="353.3" r="3"/>
<circle cx="333.7" cy="353.0" r="3"/>
<circle cx="337.6" cy="353.6" r="3"/>
<circle cx="340.7" cy="352.0" r="3"/>
<circle cx="344.3" cy="353.3" r="3"/>
<circle cx="346.6" cy="351.9" r="3"/>
<circle cx="349.9" cy="352.7" r="3"/>
<circle cx="352.8" cy="353.7" r="3"/>
<circle cx="356.3" cy="352.0" r="3"/>
<circle cx="359.0" cy="352.7" r="3"/>
<circle cx="362.0" cy="352.6" r="3"/>
<circle cx="370.9" cy="352.0" r="3"/>
<circle cx="372.8" cy="353.4" r="3"/>
<circle cx="333.3" cy="350.3" r="3"/>
<circle cx="335.3" cy="349.5" r="3"/>
<circle cx="338.7" cy="351.0" r="3"/>
<circle cx="342.1" cy="351.0" r="3"/>
<circle cx="344.5" cy="350.0" r="3"/>
<circle cx="348.1" cy="350.8" r="3"/>
<circle cx="350.3" cy="350.9" r="3"/>
<circle cx="354.0" cy="349.4" r="3"/>
<circle cx="356.9" cy="350.0" r="3"/>
<circle cx="360.3" cy="351.0" r="3"/>
<circle cx="363.0" cy="350.5" r="3"/>
<circle cx="371.4" cy="350.4" r="3"/>
<circle cx="337.0" cy="347.3" r="3"/>
<circle cx="339.9" cy="347.3" r="3"/>
<circle cx="343.7" cy="347.6" r="3"/>
<circle cx="352.7" cy="347.6" r="3"/>
<circle cx="356.4" cy="347.3" r="3"/>
<circle cx="358.9" cy="347.1" r="3"/>
<circle cx="361.1" cy="348.0" r="3"/>
<circle cx="364.6" cy="347.2" r="3"/>
<circle cx="366.7" cy="348.2" r="3"/>
<circle cx="370.3" cy="348.0" r="3"/>
<circle cx="373.4" cy="347.8" r="3"/>
<circle cx="339.1" cy="345.8" r="3"/>
<circle cx="342.7" cy="344.9" r="3"/>
<circle cx="353.2" cy="345.3" r="3"/>
<circle cx="357.1" cy="345.1" r="3"/>
<circle cx="366.6" cy="344.3" r="3"/>
<circle cx="369.5" cy="344.5" r="3"/>
<circle cx="371.5" cy="345.0" r="3"/>
<circle cx="340.7" cy="341.7" r="3"/>
<circle cx="344.0" cy="342.5" r="3"/>
<circle cx="349.8" cy="342.1" r="3"/>
<circle cx="353.3" cy="342.8" r="3"/>
<circle cx="355.1" cy="343.0" r="3"/>
<circle cx="364.6" cy="341.9" r="3"/>
<circle cx="367.1" cy="341.9" r="3"/>
<circle cx="369.8" cy="342.3" r="3"/>
<circle cx="373.1" cy="342.0" r="3"/>
<circle cx="341.6" cy="339.8" r="3"/>
<circle cx="345.7" cy="339.1" r="3"/>
<circle cx="348.6" cy="340.4" r="3"/>
<circle cx="351.2" cy="339.8" r="3"/>
<circle cx="354.4" cy="339.8" r="3"/>
<circle cx="357.3" cy="340.5" r="3"/>
<circle cx="360.5" cy="339.3" r="3"/>
<circle cx="362.2" cy="340.5" r="3"/>
<circle cx="365.8" cy="340.3" r="3"/>
<circle cx="368.5" cy="339.7" r="3"/>
<circle cx="371.8" cy="340.2" r="3"/>
<circle cx="344.3" cy="337.2" r="3"/>
<circle cx="346.6" cy="336.9" r="3"/>
<circle cx="349.0" cy="338.0" r="3"/>
<circle cx="351.8" cy="337.9" r="3"/>
<circle cx="355.8" cy="336.4" r="3"/>
<circle cx="359.2" cy="336.4" r="3"/>
<circle cx="361.6" cy="336.5" r="3"/>
<circle cx="365.4" cy="336.8" r="3"/>
<circle cx="368.2" cy="336.4" r="3"/>
<circle cx="370.8" cy="336.4" r="3"/>
<circle cx="344.2" cy="334.7" r="3"/>
<circle cx="348.9" cy="334.9" r="3"/>
<circle cx="351.6" cy="335.1" r="3"/>
<circle cx="354.0" cy="333.8" r="3"/>
<circle cx="357.0" cy="334.0" r="3"/>
<circle cx="360.0" cy="334.3" r="3"/>
<circle cx="363.0" cy="334.0" r="3"/>
<circle cx="366.4" cy="334.4" r="3"/>
<circle cx="369.0" cy="333.8" r="3"/>
<circle cx="372.0" cy="334.6" r="3"/>
<circle cx="344.4" cy="332.0" r="3"/>
<circle cx="345.8" cy="331.6" r="3"/>
<circle cx="349.2" cy="332.3" r="3"/>
<circle cx="353.3" cy="332.8" r="3"/>
<circle cx="356.3" cy="332.7" r="3"/>
<circle cx="359.1" cy="332.7" r="3"/>
<circle cx="360.6" cy="331.9" r="3"/>
<circle cx="371.3" cy="331.2" r="3"/>
<circle cx="345.0" cy="330.1" r="3"/>
<circle cx="347.2" cy="328.6" r="3"/>
<circle cx="351.7" cy="330.1" r="3"/>
<circle cx="353.1" cy="328.5" r="3"/>
<circle cx="357.6" cy="329.7" r="3"/>
<circle cx="360.0" cy="329.5" r="3"/>
<circle cx="369.5" cy="330.2" r="3"/>
<circle cx="372.6" cy="329.2" r="3"/>
<circle cx="343.2" cy="326.4" r="3"/>
<circle cx="345.6" cy="327.2" r="3"/>
<circle cx="349.1" cy="326.9" r="3"/>
<circle cx="352.5" cy="326.4" r="3"/>
<circle cx="355.8" cy="326.6" r="3"/>
<circle cx="358.0" cy="327.4" r="3"/>
<circle cx="360.9" cy="326.1" r="3"/>
<circle cx="364.1" cy="326.7" r="3"/>
<circle cx="368.0" cy="326.4" r="3"/>
<circle cx="370.0" cy="327.0" r="3"/>
<circle cx="344.6" cy="324.1" r="3"/>
<circle cx="347.6" cy="324.8" r="3"/>
<circle cx="350.4" cy="323.6" r="3"/>
<circle cx="353.6" cy="323.8" r="3"/>
<circle cx="357.4" cy="324.4" r="3"/>
<circle cx="360.5" cy="324.2" r="3"/>
<circle cx="362.2" cy="324.6" r="3"/>
<circle cx="365.5" cy="323.6" r="3"/>
<circle cx="368.8" cy="325.0" r="3"/>
<circle cx="371.8" cy="323.8" r="3"/>
<circle cx="344.2" cy="322.4" r="3"/>
<circle cx="346.3" cy="320.8" r="3"/>
<circle cx="350.0" cy="322.0" r="3"/>
<circle cx="352.2" cy="322.0" r="3"/>
<circle cx="355.3" cy="321.1" r="3"/>
<circle cx="358.7" cy="321.9" r="3"/>
<circle cx="361.5" cy="322.1" r="3"/>
<circle cx="371.2" cy="320.8" r="3"/>
<circle cx="344.5" cy="319.6" r="3"/>
<circle cx="348.8" cy="319.7" r="3"/>
<circle cx="350.7" cy="319.7" r="3"/>
<circle cx="359.4" cy="319.3" r="3"/>
<circle cx="344.3" cy="316.2" r="3"/>
<circle cx="346.3" cy="315.6" r="3"/>
<circle cx="349.1" cy="317.1" r="3"/>
<circle cx="351.7" cy="315.7" r="3"/>
<circle cx="361.2" cy="315.5" r="3"/>
<circle cx="364.2" cy="315.7" r="3"/>
<circle cx="370.6" cy="316.4" r="3"/>
<circle cx="345.5" cy="313.7" r="3"/>
<circle cx="348.8" cy="312.9" r="3"/>
<circle cx="350.5" cy="312.9" r="3"/>
<circle cx="359.7" cy="314.1" r="3"/>
<circle cx="363.8" cy="313.7" r="3"/>
<circle cx="365.4" cy="313.4" r="3"/>
<circle cx="369.1" cy="313.3" r="3"/>
<circle cx="344.0" cy="311.9" r="3"/>
<circle cx="346.4" cy="311.2" r="3"/>
<circle cx="350.1" cy="311.0" r="3"/>
<circle cx="351.9" cy="311.8" r="3"/>
<circle cx="362.4" cy="310.2" r="3"/>
<circle cx="365.0" cy="310.9" r="3"/>
<circle cx="366.7" cy="310.4" r="3"/>
<circle cx="369.9" cy="311.5" r="3"/>
<circle cx="344.5" cy="307.6" r="3"/>
<circle cx="347.5" cy="309.0" r="3"/>
<circle cx="351.0" cy="308.7" r="3"/>
<circle cx="359.9" cy="307.9" r="3"/>
<circle cx="362.1" cy="308.1" r="3"/>
<circle cx="365.2" cy="308.0" r="3"/>
<circle cx="369.2" cy="308.2" r="3"/>
<circle cx="343.5" cy="306.1" r="3"/>
<circle cx="346.2" cy="305.6" r="3"/>
<circle cx="350.2" cy="306.0" r="3"/>
<circle cx="344.9" cy="303.3" r="3"/>
<circle cx="347.9" cy="302.9" r="3"/>
<circle cx="351.7" cy="302.7" r="3"/>
<circle cx="344.3" cy="301.2" r="3"/>
<circle cx="347.2" cy="300.0" r="3"/>
<circle cx="349.5" cy="301.5" r="3"/>
<circle cx="344.6" cy="297.4" r="3"/>
<circle cx="147.3" cy="372.0" r="3"/>
<circle cx="145.6" cy="374.8" r="3"/>
</g>
<polyline points="99.38,377.10 111.24,377.10 123.09,377.10 134.95,377.10 146.81,373.60 158.66,359.48 170.52,359.48 182.38,342.89 194.23,328.09 206.09,297.24 217.95,343.78 229.81,320.61 241.66,308.45 253.52,321.30 265.38,305.53 277.23,330.62 289.09,290.66 300.95,334.26 312.80,357.46 324.66,365.04 336.52,343.89 348.38,320.55 360.23,344.88 372.09,342.07" fill="none" stroke="#000" stroke-width="2" stroke-linejoin="round"/>
<g stroke="#800080" stroke-width="1.75" fill="none">
<path d="M95.38,377.10h8m-4,0V377.10m-4,0h8"/>
<path d="M99.38,373.10v8"/>
<path d="M107.24,377.10h8m-4,0V377.10m-4,0h8"/>
<path d="M111.24,373.10v8"/>
<path d="M119.09,377.10h8m-4,0V377.10m-4,0h8"/>
<path d="M123.09,373.10v8"/>
<path d="M130.95,377.10h8m-4,0V377.10m-4,0h8"/>
<path d="M134.95,373.10v8"/>
<path d="M142.81,371.99h8m-4,0V375.21m-4,0h8"/>
<path d="M146.81,369.60v8"/>
<path d="M154.66,342.62h8m-4,0V376.35m-4,0h8"/>
<path d="M166.52,342.96h8m-4,0V376.00m-4,0h8"/>
<path d="M178.38,311.36h8m-4,0V374.43m-4,0h8"/>
<path d="M190.23,278.63h8m-4,0V377.55m-4,0h8"/>
<path d="M202.09,231.02h8m-4,0V363.46m-4,0h8"/>
<path d="M213.95,286.20h8m-4,0V401.37m-4,0h8"/>
<path d="M225.81,268.96h8m-4,0V372.27m-4,0h8"/>
<path d="M237.66,255.32h8m-4,0V361.57m-4,0h8"/>
<path d="M249.52,256.52h8m-4,0V386.08m-4,0h8"/>
<path d="M261.38,273.14h8m-4,0V337.92m-4,0h8"/>
<path d="M273.23,285.79h8m-4,0V375.45m-4,0h8"/>
<path d="M285.09,217.10h8m-4,0V364.21m-4,0h8"/>
<path d="M296.95,270.33h8m-4,0V398.18m-4,0h8"/>
<path d="M308.80,311.02h8m-4,0V403.90m-4,0h8"/>
<path d="M320.66,352.52h8m-4,0V377.55m-4,0h8"/>
<path d="M332.52,298.58h8m-4,0V389.20m-4,0h8"/>
<path d="M344.38,266.32h8m-4,0V374.77m-4,0h8"/>
<path d="M356.23,304.61h8m-4,0V385.15m-4,0h8"/>
<path d="M368.09,301.56h8m-4,0V382.58m-4,0h8"/>
</g>
<g fill="#000">
<circle cx="99.38" cy="377.10" r="3"/>
<circle cx="111.24" cy="377.10" r="3"/>
<circle cx="123.09" cy="377.10" r="3"/>
<circle cx="134.95" cy="377.10" r="3"/>
<circle cx="146.81" cy="373.60" r="3"/>
<circle cx="158.66" cy="359.48" r="3"/>
<circle cx="170.52" cy="359.48" r="3"/>
<circle cx="182.38" cy="342.89" r="3"/>
<circle cx="194.23" cy="328.09" r="3"/>
<circle cx="206.09" cy="297.24" r="3"/>
<circle cx="217.95" cy="343.78" r="3"/>
<circle cx="229.81" cy="320.61" r="3"/>
<circle cx="241.66" cy="308.45" r="3"/>
<circle cx="253.52" cy="321.30" r="3"/>
<circle cx="265.38" cy="305.53" r="3"/>
<circle cx="277.23" cy="330.62" r="3"/>
<circle cx="289.09" cy="290.66" r="3"/>
<circle cx="300.95" cy="334.26" r="3"/>
<circle cx="312.80" cy="357.46" r="3"/>
<circle cx="324.66" cy="365.04" r="3"/>
<circle cx="336.52" cy="343.89" r="3"/>
<circle cx="348.38" cy="320.55" r="3"/>
<circle cx="360.23" cy="344.88" r="3"/>
<circle cx="372.09" cy="342.07" r="3"/>
</g>
<line x1="146.21" x2="376.24" y1="334.94" y2="334.94" stroke="#ff7f50" stroke-width="2"/>
</g>
<text x="93.45" y="433" text-anchor="middle">0</text>
<text x="212.02" y="433" text-anchor="middle">10</text>
<text x="330.59" y="433" text-anchor="middle">20</text>
<text x="79" y="381.30" text-anchor="end">0</text>
<text x="79" y="312.75" text-anchor="end">2000</text>
<text x="79" y="244.20" text-anchor="end">4000</text>
<text x="79" y="175.65" text-anchor="end">6000</text>
<text x="79" y="107.10" text-anchor="end">8000</text>
<circle cx="420.28" cy="114.5" r="3" fill="#636efa"/>
<text x="440.28" y="118.7">Full Rate Observations in a Normal Point</text>
<line x1="405.28" x2="435.28" y1="133.5" y2="133.5" stroke="#000" stroke-width="2"/>
<circle cx="420.28" cy="133.5" r="3" fill="#000"/>
<text x="440.28" y="137.7">YEBL Average by Hour with STD</text>
<line x1="405.28" x2="435.28" y1="152.5" y2="152.5" stroke="#ff7f50" stroke-width="2"/>
<text x="440.28" y="156.7">YEBL Average for all Hours</text>
</svg></body></html>
